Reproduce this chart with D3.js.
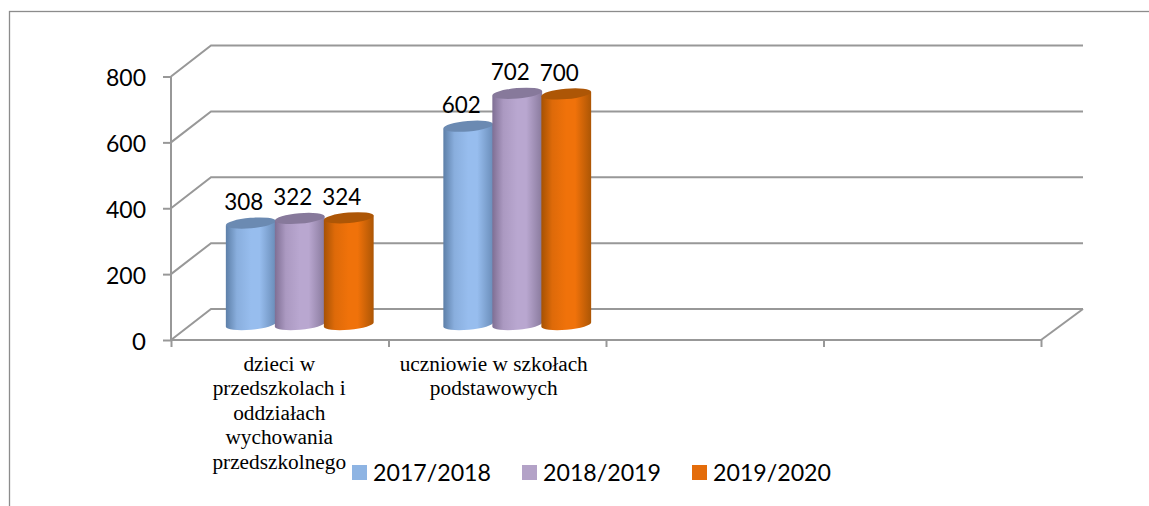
<!DOCTYPE html>
<html><head><meta charset="utf-8">
<script src="https://cdn.jsdelivr.net/npm/d3@7"></script>
<style>
html,body{margin:0;padding:0;background:#fff}
svg{display:block}
</style></head><body>
<svg id="c" width="1149" height="506"></svg>
<script>
const categories = ["dzieci w przedszkolach i oddziałach wychowania przedszkolnego", "uczniowie w szkołach podstawowych", "", ""];
const categoryLines = [["dzieci w","przedszkolach i","oddziałach","wychowania","przedszkolnego"],["uczniowie w szkołach","podstawowych"],[],[]];
const seriesNames = ["2017/2018","2018/2019","2019/2020"];
const values2017 = [308,602];
const values2018 = [322,702];
const values2019 = [324,700];
const yTicks = [0,200,400,600,800];
const seriesValues = [values2017,values2018,values2019];

const svg = d3.select("#c");
const GRID="#989898", FONT="Lato, 'Open Sans', sans-serif";
const left=171,right=1041,floorY=340,topY=76.5,dx=40,dxR=42,dy=31;
const x = d3.scaleBand().domain(d3.range(categories.length)).range([left,right]);
const y = d3.scaleLinear().domain([0,800]).range([floorY,topY]);
const barShiftX=20, barShiftY=15.5;
const labelNudge=[-0.5,-3.5,0,0];
const inner = d3.scaleBand().domain(d3.range(seriesNames.length)).range([0,147]);
const innerOffset=(x.bandwidth()-147)/2+barShiftX;
const tops=[["#6f93c0","#5d7fa8","#97bdee","#6a8db9","#6b8ab2"],
            ["#8a7a9e","#7f6f94","#b9a7d0","#897a9d","#87799b"],
            ["#b05a08","#a65204","#f0720a","#ac5605","#ad5606"]];

svg.append("rect").attr("x",9.5).attr("y",11.5).attr("width",1200).attr("height",600)
  .attr("fill","none").attr("stroke","#8c8c8c").attr("stroke-width",1.3);

const defs=svg.append("defs");
tops.forEach((t,i)=>{
  const g=defs.append("linearGradient").attr("id","g"+i);
  [[0,t[1]],[.22,d3.interpolateRgb(t[1],t[2])(.75)],[.5,t[2]],[.68,t[2]],[1,t[3]]].forEach(s=>
    g.append("stop").attr("offset",s[0]).attr("stop-color",s[1]));
});

// walls
const wall=svg.append("g").attr("fill","none").attr("stroke",GRID).attr("stroke-width",2);
yTicks.forEach(v=>{
  wall.append("path").attr("d",d3.line()([[left,y(v)],[left+dx,y(v)-dy],[right+dxR,y(v)-dy]]));
});
wall.append("path").attr("d",d3.line()([[right,floorY],[right+dxR,floorY-dy]]));

// axes
const ya=svg.append("g").attr("transform",`translate(${left},0)`)
  .call(d3.axisLeft(y).tickValues(yTicks).tickSize(8).tickPadding(17));
ya.selectAll("path,line").attr("stroke",GRID).attr("stroke-width",2);
ya.select("path").attr("d",`M0,${topY}V${floorY}`);
ya.selectAll("text").attr("font-family",FONT).attr("font-size",24).attr("fill","#000").attr("dy","0.38em");
ya.selectAll("g.tick").filter(d=>d>0).select("text").attr("textLength",40).attr("lengthAdjust","spacingAndGlyphs");

const xEdge=d3.scaleLinear().domain([0,categories.length]).range([left,right]);
const xa=svg.append("g").attr("transform",`translate(0,${floorY})`)
  .call(d3.axisBottom(xEdge).ticks(categories.length).tickFormat("").tickSize(7));
xa.selectAll("path,line").attr("stroke",GRID).attr("stroke-width",2);
xa.select("path").attr("d",`M${left},0H${right}`);

// category labels
categoryLines.forEach((ls,i)=>{
  ls.forEach((l,j)=>{
    svg.append("text").attr("x",x(i)+x.bandwidth()/2+labelNudge[i]).attr("y",371+j*24.4)
      .attr("text-anchor","middle").attr("font-family","'Liberation Serif',serif")
      .attr("font-size",21.3).attr("fill","#000").text(l);
  });
});

// cylinders
const rot=-5,ry=5.2;
seriesNames.forEach((s,si)=>{
  const g=svg.append("g");
  seriesValues[si].forEach((v,ci)=>{
    const w=inner.bandwidth(), rx=w/2+.4;
    const cx=x(ci)+innerOffset+inner(si)+w/2;
    const base=y(0)-barShiftY, top=y(v)-barShiftY;
    const t=rx*Math.tan(-rot*Math.PI/180);
    const lx=cx-rx, rxx=cx+rx;
    g.append("path").attr("fill",`url(#g${si})`)
      .attr("d",`M${lx},${top+t}L${lx},${base+t}A${rx},${ry} ${rot} 0 0 ${rxx},${base-t}L${rxx},${top-t}Z`);
    g.append("ellipse").attr("cx",cx).attr("cy",top).attr("rx",rx).attr("ry",ry)
      .attr("transform",`rotate(${rot} ${cx} ${top})`).attr("fill",tops[si][4]);
  });
});
seriesNames.forEach((s,si)=>{
  seriesValues[si].forEach((v,ci)=>{
    const w=inner.bandwidth();
    svg.append("text").attr("x",x(ci)+innerOffset+inner(si)+w/2-7)
      .attr("y",y(v)-barShiftY-13).attr("text-anchor","middle")
      .attr("font-family",FONT).attr("font-size",23.5).attr("fill","#000")
      .attr("textLength",39).attr("lengthAdjust","spacingAndGlyphs").text(v);
  });
});

// legend
const legX=d3.scalePoint().domain(seriesNames).range([352,692]);
seriesNames.forEach((s,i)=>{
  svg.append("rect").attr("x",legX(s)).attr("y",465).attr("width",15).attr("height",15)
    .attr("fill",["#8eb4e3","#b3a2c7","#e46c0a"][i]);
  svg.append("text").attr("x",legX(s)+21).attr("y",481)
    .attr("font-family",FONT).attr("font-size",24).attr("fill","#000")
    .attr("textLength",118).attr("lengthAdjust","spacingAndGlyphs").text(s);
});
</script>
</body></html>
